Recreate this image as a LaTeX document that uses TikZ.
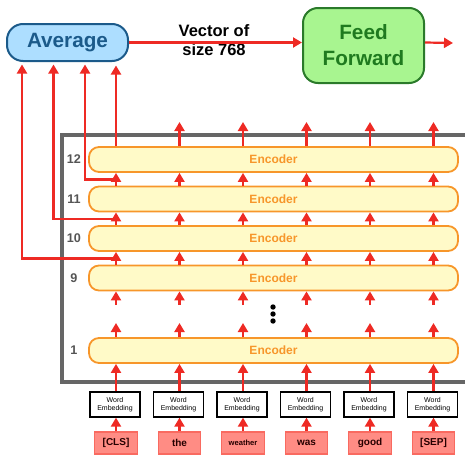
\documentclass[tikz,border=0pt]{standalone}
\usepackage{fontspec}
\setmainfont{Liberation Sans}
\usetikzlibrary{arrows.meta,calc}

\definecolor{arrowred}{HTML}{EE2A24}
\definecolor{avfill}{HTML}{ADDEFF}
\definecolor{avline}{HTML}{1B5A8A}
\definecolor{fffill}{HTML}{A8F590}
\definecolor{ffline}{HTML}{2A7A2A}
\definecolor{ffdark}{HTML}{1F7A1F}
\definecolor{encfill}{HTML}{FFFAC8}
\definecolor{encline}{HTML}{F7962A}
\definecolor{tokfill}{HTML}{FF8C84}
\definecolor{tokline}{HTML}{F96A60}
\definecolor{framegray}{HTML}{666666}
\definecolor{labelgray}{HTML}{555555}

\tikzset{
  flow/.style={draw=arrowred, line width=2.2pt,
    -{Triangle[width=10pt,length=9pt]}},
  enc/.style={draw=encline, fill=encfill, line width=1.8pt,
    rounded corners=10pt, minimum width=369pt, minimum height=25pt,
    inner sep=0pt, text=encline,
    font=\fontsize{12}{12}\selectfont\bfseries},
  layerlabel/.style={text=labelgray, font=\fontsize{12.6}{13}\selectfont\bfseries},
  embed/.style={draw=black, fill=white, line width=1.3pt,
    minimum width=50pt, minimum height=25pt, inner sep=0pt, align=center,
    font=\fontsize{7}{7.8}\selectfont},
  token/.style={draw=tokline, fill=tokfill, line width=1.3pt,
    minimum width=42.5pt, minimum height=22pt, inner sep=0pt,
    text=black!85!red, font=\fontsize{10}{10}\selectfont\bfseries},
  bigbox/.style={line width=2pt, inner sep=0pt, align=center,
    font=\fontsize{20.7}{26}\selectfont\bfseries},
}

\begin{document}
\begin{tikzpicture}[x=1pt, y=-1pt]
\useasboundingbox (0,0) rectangle (465,455);

% stack frame, open on the right
\draw[framegray, line width=3.2pt] (466,135) -- (62,135) -- (62,382) -- (466,382);

% column positions
\foreach \i/\x in {1/116, 2/179.5, 3/243, 4/306.5, 5/370, 6/433.5} {
  \coordinate (c\i) at (\x,0);
  \coordinate (top\i) at (\x,122);
  \coordinate (below9\i) at (\x,305);
  \coordinate (above1\i) at (\x,323);
}

% encoder layers
\node[enc] (enc12) at (273.5,159.5) {Encoder};
\node[enc] (enc11) at (273.5,199)   {Encoder};
\node[enc] (enc10) at (273.5,238.5) {Encoder};
\node[enc] (enc9)  at (273.5,278)   {Encoder};
\node[enc] (enc1)  at (273.5,350.5) {Encoder};

\node[layerlabel] (l12) at (74,159.5) {12};
\node[layerlabel] (l11) at (74,199)   {11};
\node[layerlabel] (l10) at (74,238.5) {10};
\node[layerlabel] (l9)  at (74,278)   {9};
\node[layerlabel] (l1)  at (74,350.5) {1};

% ellipsis between layer 9 and layer 1
\foreach \y in {307,314,321} {
  \fill[black] (273,\y) circle[radius=2.7pt];
}

% embeddings and tokens
\foreach \i/\x/\t in {1/115/{[CLS]}, 2/178.5/the, 4/305.5/was, 5/369/good, 6/432.5/{[SEP]}} {
  \node[embed] (w\i) at (\x,404.5) {Word\\Embedding};
  \node[token] (k\i) at (\x+1,443) {\t};
}
\node[embed] (w3) at (242,404.5) {Word\\Embedding};
\node[token, font=\fontsize{7.6}{8}\selectfont\bfseries] (k3) at (243,443) {weather};

% average and feed forward
\node[bigbox, draw=avline, fill=avfill, text=avline, rounded corners=16pt,
  minimum width=121pt, minimum height=37pt] (av) at (67.5,42.5) {Average};
\node[bigbox, draw=ffline, fill=fffill, text=ffdark, rounded corners=15pt,
  minimum width=121pt, minimum height=75pt] (ff) at (363.5,45.5) {Feed\\Forward};
\node[align=center, font=\fontsize{16.5}{19.5}\selectfont\bfseries] (vec) at (214,40)
  {Vector of\\size 768};

\coordinate (out) at (453,43);
\draw[flow] (av.east) -- (av.east -| ff.west);
\draw[flow] (ff.east |- av.east) -- (out);

% vertical flow through the stack
\foreach \i in {1,...,6} {
  \draw[flow] (k\i.north -| c\i) -- (w\i.south -| c\i);
  \draw[flow] (w\i.north -| c\i) -- (enc1.south -| c\i);
  \draw[flow] (enc1.north -| c\i) -- (above1\i);
  \draw[flow] (below9\i) -- (enc9.south -| c\i);
  \draw[flow] (enc9.north -| c\i) -- (enc10.south -| c\i);
  \draw[flow] (enc10.north -| c\i) -- (enc11.south -| c\i);
  \draw[flow] (enc11.north -| c\i) -- (enc12.south -| c\i);
}
\foreach \i in {2,...,6} {
  \draw[flow] (enc12.north -| c\i) -- (top\i);
}

% outputs of the last four layers feed the average
\coordinate (a1) at (22,61);
\coordinate (a2) at (53.5,61);
\coordinate (a3) at (85,61);
\coordinate (j9)  at (116,258.5);
\coordinate (j10) at (116,219);
\coordinate (j11) at (116,179.5);
\draw[flow, shorten >=3.5pt] (enc12.north -| c1) -- (av.south -| c1);
\draw[flow, shorten >=3.5pt] (j11) -| (a3);
\draw[flow, shorten >=3.5pt] (j10) -| (a2);
\draw[flow, shorten >=3.5pt] (j9) -| (a1);
\end{tikzpicture}
\end{document}
